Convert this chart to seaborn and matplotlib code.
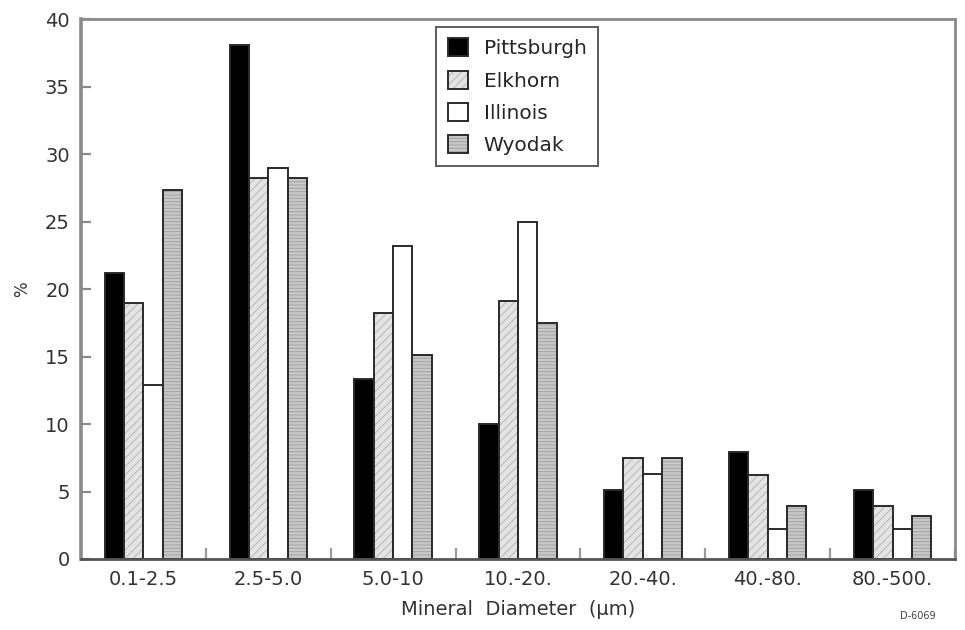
#! /usr/bin/env python3

import pandas as pd
import matplotlib
matplotlib.use('Agg')
import matplotlib.pyplot as plt
from matplotlib.colors import to_rgba
import seaborn as sns

# size bins and coal types
bins = ['0.1-2.5', '2.5-5.0', '5.0-10', '10.-20.', '20.-40.', '40.-80.', '80.-500.']
coals = ['Pittsburgh', 'Elkhorn', 'Illinois', 'Wyodak']

pittsburgh = [21.2, 38.1, 13.3, 10.0, 5.1, 7.9, 5.1]
elkhorn = [19.0, 28.2, 18.2, 19.1, 7.5, 6.2, 3.9]
illinois = [12.9, 29.0, 23.2, 25.0, 6.3, 2.2, 2.2]
wyodak = [27.3, 28.2, 15.1, 17.5, 7.5, 3.9, 3.2]

rows = []
for coal, vals in zip(coals, [pittsburgh, elkhorn, illinois, wyodak]):
	for b, v in zip(bins, vals):
		rows.append({'Bin': b, 'Coal': coal, 'Pct': v})
df = pd.DataFrame(rows)

sns.set_style('white')
plt.rcParams['font.family'] = ['DejaVu Sans']
plt.rcParams['hatch.linewidth'] = 0.7

fig = plt.figure(figsize=(9.65, 6.3), dpi=100)
ax = fig.add_axes([0.0839, 0.1127, 0.9057, 0.8571])

faces = {'Pittsburgh': '#000000', 'Elkhorn': '#e4e4e4', 'Illinois': '#ffffff', 'Wyodak': '#c8c8c8'}
hatches = {'Pittsburgh': '', 'Elkhorn': '////', 'Illinois': '', 'Wyodak': '-----'}
hatch_cols = {'Pittsburgh': '#000000', 'Elkhorn': '#b8b8b8', 'Illinois': '#ffffff', 'Wyodak': '#a2a2a2'}

sns.barplot(data=df, x='Bin', y='Pct', hue='Coal', order=bins, hue_order=coals,
			palette=faces, width=0.62, gap=0, edgecolor='#2a2a2a', linewidth=1.4,
			saturation=1, legend=False, ax=ax)

for coal, cont in zip(coals, ax.containers):
	for bar in cont:
		bar.set_hatch(hatches[coal])
		# hatch lines lighter than the bar outline
		if hasattr(bar, 'set_hatchcolor'):
			bar.set_hatchcolor(hatch_cols[coal])
		else:
			bar._hatch_color = to_rgba(hatch_cols[coal])

ax.set_xlim(-0.5, 6.5)
ax.set_ylim(0, 40)
ax.set_yticks(range(0, 41, 5))
ax.set_xticks([i + 0.5 for i in range(7)], minor=True)

for s in ax.spines.values():
	s.set_color('#8a8a8a')
	s.set_linewidth(2)
ax.spines['left'].set_linewidth(2.6)
ax.spines['bottom'].set_color('#555555')

ax.tick_params(axis='y', left=True, direction='in', length=7, width=1.6, color='#8a8a8a',
			   labelsize=14, pad=8, labelcolor='#333333')
ax.tick_params(axis='x', which='major', bottom=False, length=0, labelsize=14, pad=8,
			   labelcolor='#333333')
ax.tick_params(axis='x', which='minor', bottom=True, direction='in', length=8, width=1.6,
			   color='#9a9a9a')

ax.set_xlabel('Mineral  Diameter  (\u00b5m)', fontsize=14, color='#333333', labelpad=8)
ax.set_ylabel('%', fontsize=12, color='#333333', labelpad=10)

leg = ax.legend(handles=ax.containers, labels=coals, loc='upper center',
				bbox_to_anchor=(0.499, 0.985), borderaxespad=0, fontsize=14.5,
				frameon=True, fancybox=False, edgecolor='#333333',
				handlelength=1.0, handleheight=1.0,
				borderpad=0.55, labelspacing=0.62, handletextpad=0.8)
leg.get_frame().set_linewidth(1.4)

fig.text(0.97, 0.018, 'D-6069', fontsize=7, color='#444444', ha='right')

fig.savefig('out.png', dpi=100)
